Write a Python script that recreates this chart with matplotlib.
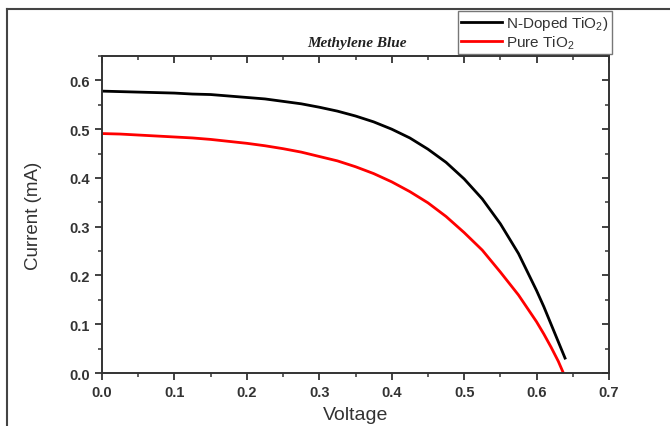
import matplotlib

matplotlib.use("Agg")
import matplotlib.pyplot as plt
from matplotlib.lines import Line2D
from matplotlib.ticker import MultipleLocator

# J-V curves
voltage_doped = [0.0, 0.025, 0.05, 0.075, 0.10, 0.125, 0.15, 0.175, 0.20, 0.225,
                 0.25, 0.275, 0.30, 0.325, 0.35, 0.375, 0.40, 0.425, 0.45, 0.475,
                 0.50, 0.525, 0.55, 0.575, 0.60, 0.61, 0.62, 0.63, 0.64]
current_doped = [0.578, 0.577, 0.576, 0.575, 0.574, 0.572, 0.571, 0.568, 0.565, 0.562,
                 0.557, 0.552, 0.545, 0.537, 0.527, 0.515, 0.500, 0.482, 0.459, 0.432,
                 0.398, 0.357, 0.306, 0.245, 0.169, 0.136, 0.100, 0.064, 0.028]

voltage_pure = [0.0, 0.025, 0.05, 0.075, 0.10, 0.125, 0.15, 0.175, 0.20, 0.225,
                0.25, 0.275, 0.30, 0.325, 0.35, 0.375, 0.40, 0.425, 0.45, 0.475,
                0.50, 0.525, 0.55, 0.575, 0.60, 0.61, 0.62, 0.63, 0.637]
current_pure = [0.491, 0.490, 0.488, 0.486, 0.484, 0.482, 0.479, 0.475, 0.471, 0.466,
                0.460, 0.453, 0.444, 0.435, 0.423, 0.409, 0.392, 0.372, 0.349, 0.321,
                0.288, 0.252, 0.207, 0.160, 0.105, 0.080, 0.053, 0.024, 0.0]

series_labels = ["N-Doped TiO$_2$)", "Pure TiO$_2$"]
title = "Methylene Blue"

plt.rcParams["font.family"] = ["Liberation Sans", "DejaVu Sans"]
plt.rcParams["mathtext.fontset"] = "custom"
plt.rcParams["mathtext.rm"] = "Liberation Sans"

fig = plt.figure(figsize=(6.7, 4.27), dpi=100)
ax = fig.add_axes([0.1522, 0.124, 0.7568, 0.7425])

ax.plot(voltage_doped, current_doped, color="black", lw=2.0, solid_capstyle="butt")
ax.plot(voltage_pure, current_pure, color="#ff0000", lw=2.0, solid_capstyle="butt")

ax.set_xlim(0, 0.7)
ax.set_ylim(0, 0.65)
ax.xaxis.set_major_locator(MultipleLocator(0.1))
ax.xaxis.set_minor_locator(MultipleLocator(0.05))
ax.yaxis.set_major_locator(MultipleLocator(0.1))
ax.yaxis.set_minor_locator(MultipleLocator(0.05))
ax.xaxis.set_major_formatter(lambda v, p: f"{v:.1f}")
ax.yaxis.set_major_formatter(lambda v, p: f"{v:.1f}")

tick_color = "#333333"
ax.tick_params(which="major", direction="out", length=5, width=1.3,
               labelsize=10.5, labelcolor=tick_color, color=tick_color)
ax.tick_params(which="minor", direction="out", length=3, width=1.1, color=tick_color)
for lab in ax.get_xticklabels() + ax.get_yticklabels():
    lab.set_fontweight("bold")

# top and right edges carry inward ticks without labels
top = ax.secondary_xaxis("top")
right = ax.secondary_yaxis("right")
for sec in (top, right):
    sec.tick_params(which="major", direction="in", length=5, width=1.3, color=tick_color)
    sec.tick_params(which="minor", direction="in", length=3, width=1.1, color=tick_color)
top.xaxis.set_major_locator(MultipleLocator(0.1))
top.xaxis.set_minor_locator(MultipleLocator(0.05))
right.yaxis.set_major_locator(MultipleLocator(0.1))
right.yaxis.set_minor_locator(MultipleLocator(0.05))
top.set_xticklabels([])
right.set_yticklabels([])
for sec in (top, right):
    for sp in sec.spines.values():
        sp.set_visible(False)

for sp in ax.spines.values():
    sp.set_linewidth(1.4)
    sp.set_color(tick_color)

ax.set_xlabel("Voltage", fontsize=14, color=tick_color, labelpad=5)
ax.set_ylabel("Current (mA)", fontsize=13.5, color=tick_color, labelpad=20)

fig.text(0.533, 0.897, title, ha="center", va="center", fontsize=11,
         family="Liberation Serif", fontweight="bold", style="italic", color="#222222")

handles = [Line2D([], [], color="black", lw=2.0), Line2D([], [], color="#ff0000", lw=2.0)]
leg = fig.legend(handles, series_labels, loc="upper right",
                 bbox_to_anchor=(0.913, 0.972), fontsize=11, frameon=True,
                 fancybox=False, handlelength=2.7, handletextpad=0.25,
                 borderpad=0.2, labelspacing=0.1, borderaxespad=0)
leg.get_frame().set_edgecolor("#555555")
leg.get_frame().set_linewidth(1.0)
for t in leg.get_texts():
    t.set_color("#333333")

# outer page frame along the top and left
fig.add_artist(Line2D([0.0104, 1.0], [0.977, 0.977], transform=fig.transFigure,
                      color="#444444", lw=1.5))
fig.add_artist(Line2D([0.0104, 0.0104], [0.0, 0.977], transform=fig.transFigure,
                      color="#444444", lw=1.5))

fig.savefig("out.png", dpi=100)
